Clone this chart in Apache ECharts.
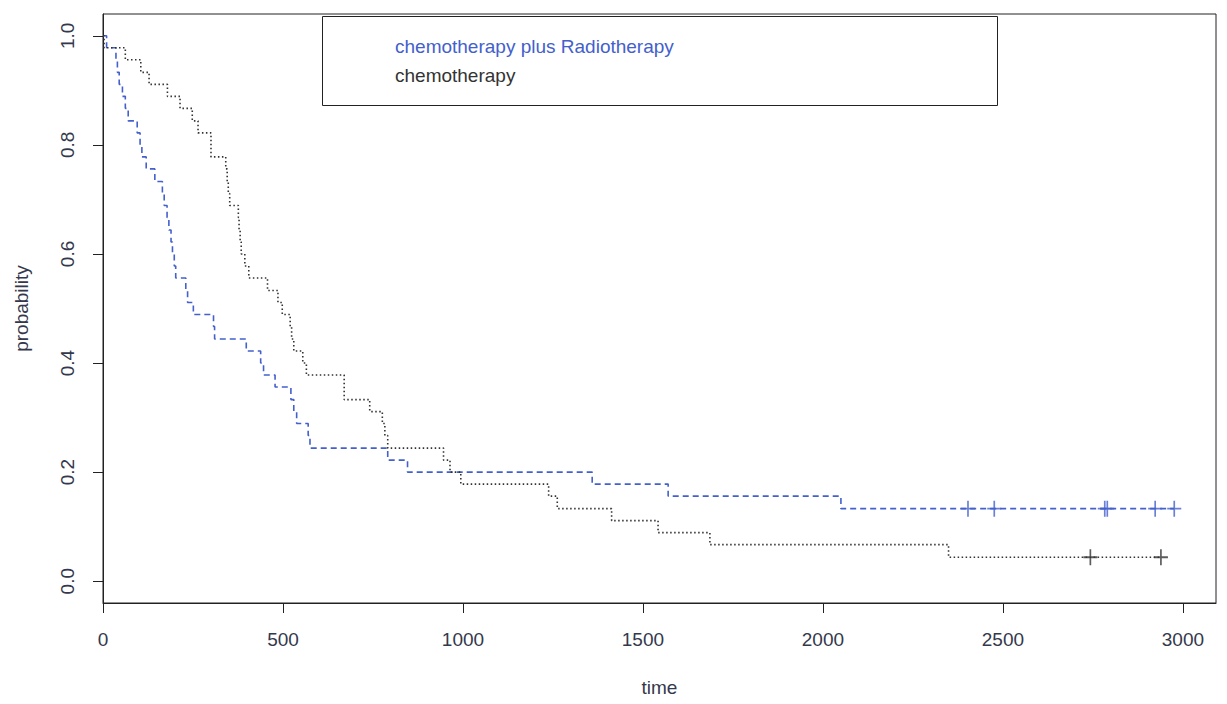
<!DOCTYPE html>
<html lang="en">
<head>
    <meta charset="UTF-8">
    <title>Survival curves</title>
    <script src="https://cdn.jsdelivr.net/npm/echarts@6/dist/echarts.min.js"></script>
    <style>
        html, body { margin: 0; padding: 0; background: #fff; }
        #main { width: 1227px; height: 704px; }
    </style>
</head>
<body>
<div id="main"></div>
<script>
    // chemotherapy plus Radiotherapy (blue, dashed)
    var blueTimes = [0, 10, 36, 40, 45, 54, 62, 70, 95, 103, 108, 120, 144, 165, 170, 178, 183, 189, 193, 198,
        202, 230, 235, 251, 307, 310, 398, 438, 446, 478, 522, 530, 538, 570, 575, 791, 846, 1359, 1570, 2050, 2976];
    var blueProb = [1.0, 0.978, 0.956, 0.933, 0.911, 0.889, 0.867, 0.844, 0.822, 0.8, 0.778, 0.756, 0.733, 0.711, 0.689, 0.667, 0.644, 0.622, 0.6, 0.578,
        0.556, 0.533, 0.511, 0.489, 0.467, 0.444, 0.422, 0.4, 0.378, 0.356, 0.333, 0.311, 0.289, 0.267, 0.244, 0.222, 0.2, 0.178, 0.156, 0.133, 0.133];
    var blueCensor = [2403, 2476, 2783, 2790, 2923, 2976];
    var blueCensorProb = 0.133;

    // chemotherapy (black, dotted)
    var blackTimes = [0, 3, 62, 105, 128, 179, 214, 248, 264, 300, 341, 345, 348, 352, 376, 378, 381, 384, 394, 405,
        457, 486, 498, 520, 524, 530, 555, 565, 670, 741, 776, 783, 791, 946, 964, 994, 1238, 1262, 1413, 1542, 1686, 2349, 2939];
    var blackProb = [1.0, 0.978, 0.956, 0.933, 0.911, 0.889, 0.867, 0.844, 0.822, 0.778, 0.756, 0.733, 0.711, 0.689, 0.667, 0.644, 0.622, 0.6, 0.578, 0.556,
        0.533, 0.511, 0.489, 0.467, 0.444, 0.422, 0.4, 0.378, 0.333, 0.311, 0.289, 0.267, 0.244, 0.222, 0.2, 0.178, 0.156, 0.133, 0.111, 0.089, 0.067, 0.044, 0.044];
    var blackCensor = [2743, 2939];
    var blackCensorProb = 0.044;

    var xTicks = [0, 500, 1000, 1500, 2000, 2500, 3000];
    var yTicks = [0, 0.2, 0.4, 0.6, 0.8, 1.0];

    var blueColor = '#4360cc';
    var blackColor = '#333333';
    var textColor = '#34384c';
    var plus = 'path://M4.4,0h1.2v4.4h4.4v1.2h-4.4v4.4h-1.2v-4.4h-4.4v-1.2h4.4z';

    function pairs(xs, ys) {
        var out = [];
        for (var i = 0; i < xs.length; i++) {
            out.push([xs[i], ys[i]]);
        }
        return out;
    }

    function censorPairs(xs, p) {
        return xs.map(function (t) { return [t, p]; });
    }

    var myChart = echarts.init(document.getElementById('main'), null, {renderer: 'svg'});
    var option = {
        animation: false,
        backgroundColor: '#fff',
        textStyle: {fontFamily: 'Liberation Sans, Arial, sans-serif'},
        grid: {
            left: 103,
            right: 11,
            top: 14,
            bottom: 101,
            show: true,
            borderColor: '#222',
            borderWidth: 1
        },
        xAxis: {
            type: 'value',
            min: 0,
            max: 3092,
            name: 'time',
            nameLocation: 'middle',
            nameGap: 75,
            nameTextStyle: {color: textColor, fontSize: 19},
            axisLine: {show: true, onZero: false, lineStyle: {color: '#222'}},
            axisTick: {show: true, length: 10, lineStyle: {color: '#222'}, customValues: xTicks},
            axisLabel: {
                color: textColor, fontSize: 19, margin: 27, customValues: xTicks,
                formatter: function (v) { return String(v); }
            },
            splitLine: {show: false}
        },
        yAxis: {
            type: 'value',
            min: -0.04,
            max: 1.04,
            name: 'probability',
            nameLocation: 'middle',
            nameGap: 72,
            nameRotate: 90,
            nameTextStyle: {color: textColor, fontSize: 19},
            axisLine: {show: true, onZero: false, lineStyle: {color: '#222'}},
            axisTick: {show: true, length: 10, lineStyle: {color: '#222'}, customValues: yTicks},
            axisLabel: {
                color: textColor, fontSize: 19, margin: 26, rotate: 90, customValues: yTicks,
                formatter: function (v) { return v.toFixed(1); }
            },
            splitLine: {show: false}
        },
        graphic: [
            {
                type: 'rect',
                left: 320,
                top: 14,
                shape: {width: 675, height: 89},
                style: {fill: 'none', stroke: '#222', lineWidth: 1}
            },
            {
                type: 'text',
                left: 395,
                top: 37,
                style: {text: 'chemotherapy plus Radiotherapy', fill: blueColor, fontSize: 19, fontFamily: 'Liberation Sans, Arial, sans-serif'}
            },
            {
                type: 'text',
                left: 395,
                top: 66,
                style: {text: 'chemotherapy', fill: blackColor, fontSize: 19, fontFamily: 'Liberation Sans, Arial, sans-serif'}
            }
        ],
        series: [
            {
                name: 'chemotherapy plus Radiotherapy',
                type: 'line',
                step: 'end',
                showSymbol: false,
                data: pairs(blueTimes, blueProb),
                lineStyle: {color: blueColor, width: 1.6, type: [6, 4]}
            },
            {
                name: 'chemotherapy',
                type: 'line',
                step: 'end',
                showSymbol: false,
                data: pairs(blackTimes, blackProb),
                lineStyle: {color: blackColor, width: 1.6, type: [1.5, 2.5]}
            },
            {
                name: 'censor1',
                type: 'scatter',
                symbol: plus,
                symbolSize: [14, 16],
                data: censorPairs(blueCensor, blueCensorProb),
                itemStyle: {color: blueColor}
            },
            {
                name: 'censor2',
                type: 'scatter',
                symbol: plus,
                symbolSize: [14, 16],
                data: censorPairs(blackCensor, blackCensorProb),
                itemStyle: {color: blackColor}
            }
        ]
    };
    myChart.setOption(option);
</script>
</body>
</html>
